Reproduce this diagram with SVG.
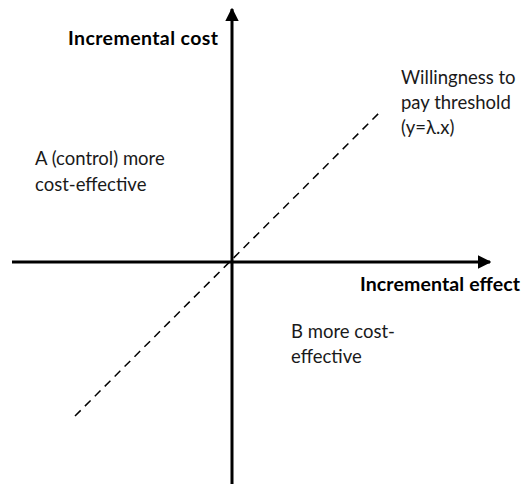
<svg xmlns="http://www.w3.org/2000/svg" width="527" height="487" viewBox="0 0 527 487">
  <style>
    .axis { stroke: #000; stroke-width: 3; fill: none; }
    .wtp { stroke: #000; stroke-width: 1.5; stroke-dasharray: 8 6; fill: none; }
    .lbl { font-family: Lato, "Open Sans", "Liberation Sans", sans-serif; font-size: 18.5px; fill: #1a1a1a; }
    .bold { font-weight: bold; font-size: 19.5px; fill: #000; }
  </style>
  <defs>
    <marker id="arrow" viewBox="0 0 10 10" refX="9" refY="5" markerWidth="4.5" markerHeight="4.5" orient="auto" markerUnits="strokeWidth">
      <path d="M0,0 L10,5 L0,10 Z" fill="#000"/>
    </marker>
  </defs>
  <rect width="527" height="487" fill="#fff"/>
  <g id="connectors">
    <line class="axis" x1="232" y1="484" x2="232" y2="9" marker-end="url(#arrow)"/>
    <line class="axis" x1="12" y1="262" x2="490" y2="262" marker-end="url(#arrow)"/>
    <line class="wtp" x1="75" y1="416" x2="380" y2="112"/>
  </g>
  <g id="y-axis-label">
    <text class="lbl bold" x="68" y="45" textLength="150" lengthAdjust="spacing">Incremental cost</text>
  </g>
  <g id="x-axis-label">
    <text class="lbl bold" x="360" y="291" textLength="160" lengthAdjust="spacing">Incremental effect</text>
  </g>
  <g id="threshold-label">
    <text class="lbl" x="401" y="84">Willingness to</text>
    <text class="lbl" x="401" y="109">pay threshold</text>
    <text class="lbl" x="401" y="134">(y=λ.x)</text>
  </g>
  <g id="region-a">
    <text class="lbl" x="35" y="165">A (control) more</text>
    <text class="lbl" x="35" y="191">cost-effective</text>
  </g>
  <g id="region-b">
    <text class="lbl" x="291" y="338">B more cost-</text>
    <text class="lbl" x="291" y="363">effective</text>
  </g>
</svg>
